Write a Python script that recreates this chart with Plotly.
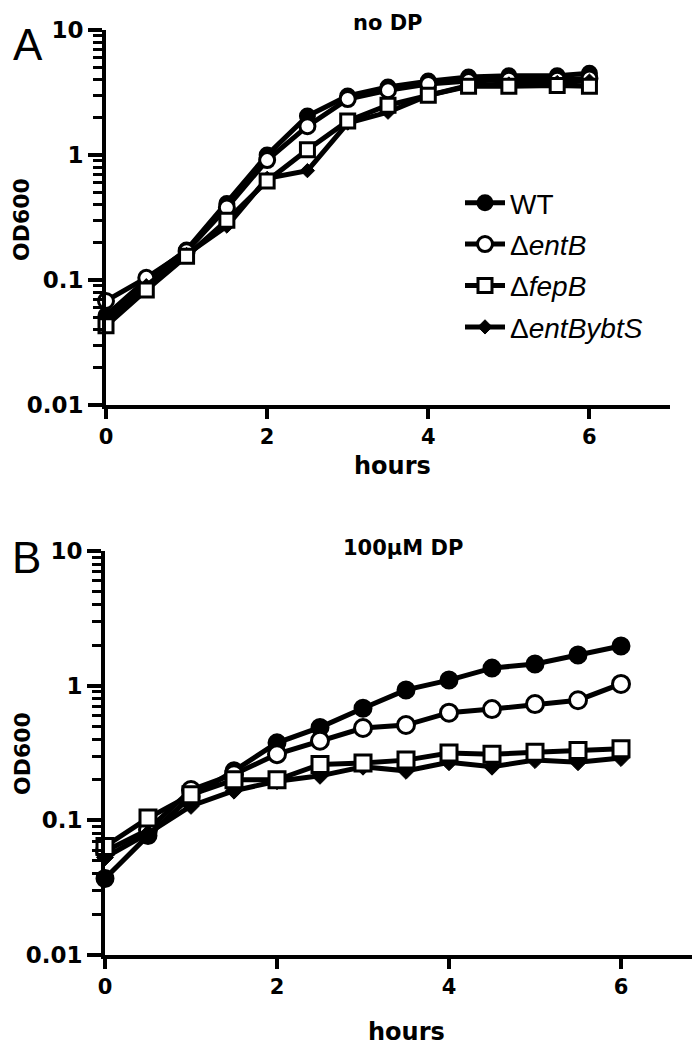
import plotly.graph_objects as go

# ---- data ----
hours_a = [0, 0.5, 1, 1.5, 2, 2.5, 3, 3.5, 4, 4.5, 5, 5.6, 6]
wt_a = [0.052, 0.10, 0.174, 0.41, 1.0, 2.05, 2.97, 3.5, 3.9, 4.2, 4.3, 4.3, 4.5]
entb_a = [0.068, 0.104, 0.17, 0.38, 0.91, 1.7, 2.8, 3.3, 3.7, 3.9, 4.0, 4.0, 4.1]
fepb_a = [0.043, 0.083, 0.155, 0.30, 0.62, 1.1, 1.87, 2.5, 3.0, 3.55, 3.55, 3.6, 3.55]
ybts_a = [0.047, 0.09, 0.16, 0.27, 0.65, 0.75, 1.8, 2.2, 3.0, 3.6, 3.7, 3.8, 3.9]

hours_b = [0, 0.5, 1, 1.5, 2, 2.5, 3, 3.5, 4, 4.5, 5, 5.5, 6]
wt_b = [0.037, 0.077, 0.15, 0.233, 0.376, 0.49, 0.68, 0.93, 1.1, 1.35, 1.45, 1.69, 1.97]
entb_b = [0.059, 0.085, 0.168, 0.22, 0.31, 0.39, 0.485, 0.51, 0.63, 0.67, 0.73, 0.78, 1.03]
fepb_b = [0.064, 0.104, 0.155, 0.20, 0.20, 0.26, 0.267, 0.28, 0.316, 0.31, 0.32, 0.33, 0.34]
ybts_b = [0.053, 0.08, 0.128, 0.166, 0.195, 0.214, 0.25, 0.233, 0.27, 0.25, 0.28, 0.27, 0.29]

names = ["WT", "Δ<i>entB</i>", "Δ<i>fepB</i>", "Δ<i>entBybtS</i>"]
x_ticks = [0, 2, 4, 6]
y_ticks = [0.01, 0.1, 1, 10]
y_ticktext = ["0.01", "0.1", "1", "10"]
panel_titles = ["no DP", "100μM DP"]

W, H = 700, 1046
BOLD = dict(family="DejaVu Sans", color="black", weight="bold")

fig = go.Figure()

def add_panel(xs, series, xa, ya, msize, show):
    wt, entb, fepb, ybts = series
    styles = [
        (wt, names[0], 1, dict(symbol="circle", size=msize, color="black",
                               line=dict(color="black", width=2))),
        (entb, names[1], 2, dict(symbol="circle", size=msize, color="white",
                                 line=dict(color="black", width=3))),
        (ybts, names[3], 4, dict(symbol="diamond", size=msize - 4, color="black",
                                 line=dict(color="black", width=1))),
        (fepb, names[2], 3, dict(symbol="square", size=msize - 1, color="white",
                                 line=dict(color="black", width=3))),
    ]
    for ys, nm, rank, mk in styles:
        fig.add_trace(go.Scatter(
            x=xs, y=ys, name=nm, mode="lines+markers",
            line=dict(color="black", width=5), marker=mk,
            xaxis=xa, yaxis=ya, showlegend=show, legendrank=rank,
            legendgroup=nm, cliponaxis=False))

add_panel(hours_a, (wt_a, entb_a, fepb_a, ybts_a), "x", "y", 15, True)
add_panel(hours_b, (wt_b, entb_b, fepb_b, ybts_b), "x2", "y2", 17, False)

def px_x(p):
    return p / W

def px_y(p):
    return 1 - p / H

minor_vals = [k * 10 ** e for e in (-2, -1, 0) for k in range(2, 10)]

def xaxis_cfg(d0, d1, anchor):
    return dict(domain=[px_x(d0), px_x(d1)], range=[0, 7], anchor=anchor,
                tickvals=x_ticks, ticks="outside", ticklen=10, tickwidth=4,
                tickcolor="black", showline=True, linewidth=4, linecolor="black",
                showgrid=False, zeroline=False, automargin=False,
                tickfont=dict(size=21, **BOLD))

def yaxis_cfg(top, bot, anchor):
    return dict(type="log", domain=[px_y(bot), px_y(top)], range=[-2, 1], anchor=anchor,
                tickvals=y_ticks, ticktext=y_ticktext, ticks="outside", ticklen=14,
                tickwidth=4, tickcolor="black", showline=True, linewidth=4,
                linecolor="black", showgrid=False, zeroline=False, automargin=False,
                tickfont=dict(size=23, **BOLD),
                minor=dict(tickvals=minor_vals, ticks="outside", ticklen=9,
                           tickwidth=3, tickcolor="black", showgrid=False))

fig.update_layout(
    width=W, height=H, margin=dict(l=0, r=0, t=0, b=0, pad=0, autoexpand=False),
    paper_bgcolor="white", plot_bgcolor="white",
    xaxis=xaxis_cfg(98, 662, "y"),
    yaxis=yaxis_cfg(22, 397, "x"),
    xaxis2=xaxis_cfg(97, 699, "y2"),
    yaxis2=yaxis_cfg(543, 947, "x2"),
    legend=dict(x=px_x(452), y=px_y(170), xanchor="left", yanchor="top",
                font=dict(family="Liberation Sans", size=28, color="black"),
                tracegroupgap=2, bgcolor="rgba(0,0,0,0)", itemwidth=40),
    showlegend=True,
)

ann = []
# panel letters
ann.append(dict(text="A", x=px_x(20), y=px_y(36), showarrow=False,
                font=dict(family="Liberation Sans", size=44, color="black")))
ann.append(dict(text="B", x=px_x(18), y=px_y(549), showarrow=False,
                font=dict(family="Liberation Sans", size=44, color="black")))
# titles
ann.append(dict(text=panel_titles[0], x=px_x(380), y=px_y(15), showarrow=False,
                font=dict(size=21, **BOLD)))
ann.append(dict(text=panel_titles[1], x=px_x(395), y=px_y(540), showarrow=False,
                font=dict(size=21, **BOLD)))
# axis titles
for xc, yc in ((384, 458), (398, 1024)):
    ann.append(dict(text="hours", x=px_x(xc), y=px_y(yc), showarrow=False,
                    font=dict(size=24, **BOLD)))
for yc in (212, 746):
    ann.append(dict(text="OD600", x=px_x(14), y=px_y(yc), showarrow=False,
                    textangle=-90, font=dict(size=22, **BOLD)))
for a in ann:
    a.update(xref="paper", yref="paper", xanchor="center", yanchor="middle")
fig.update_layout(annotations=ann)

fig.write_html("out.html")
